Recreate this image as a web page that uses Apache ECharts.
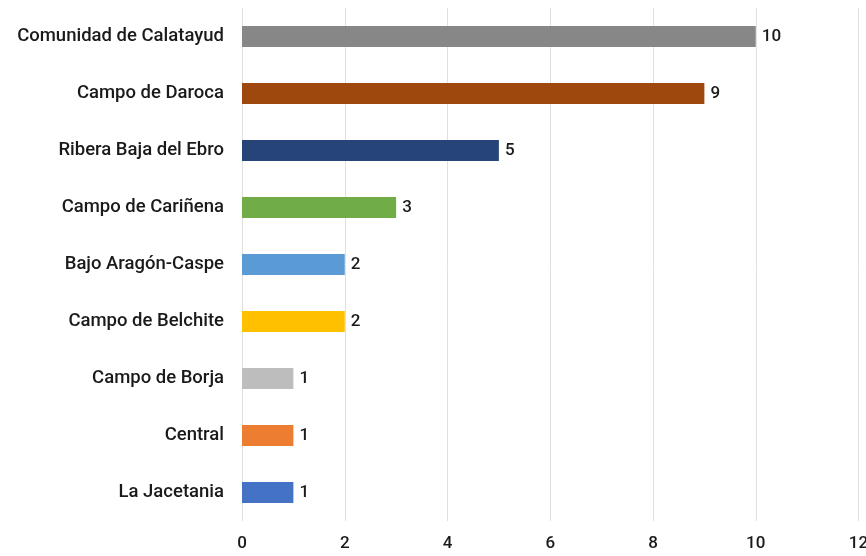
<!DOCTYPE html>
<html>
<head>
<meta charset="utf-8">
<script src="https://cdn.jsdelivr.net/npm/echarts@6/dist/echarts.min.js"></script>
<style>
  html, body { margin: 0; padding: 0; background: #fff; }
  #chart { width: 866px; height: 556px; }
</style>
</head>
<body>
<div id="chart"></div>
<script>
// categories bottom -> top
const comarcas = ['La Jacetania', 'Central', 'Campo de Borja', 'Campo de Belchite', 'Bajo Aragón-Caspe',
  'Campo de Cariñena', 'Ribera Baja del Ebro', 'Campo de Daroca', 'Comunidad de Calatayud'];
const valores = [1, 1, 1, 2, 2, 3, 5, 9, 10];
const colores = ['#4472C4', '#ED7D31', '#BDBDBD', '#FFC000', '#5B9BD5', '#70AD47', '#264478', '#9E480E', '#878787'];

const font = 'Roboto, "DejaVu Sans", sans-serif';

const chart = echarts.init(document.getElementById('chart'));
const option = {
  animation: false,
  grid: { left: 242, right: 7.5, top: 8, bottom: 35, outerBoundsMode: 'none' },
  xAxis: {
    type: 'value',
    min: 0,
    max: 12,
    interval: 2,
    axisLine: { show: false },
    axisTick: { show: false },
    splitLine: { lineStyle: { color: '#e0e0e0', width: 1 } },
    axisLabel: { color: '#1a1a1a', fontSize: 17, fontWeight: 500, fontFamily: font, margin: 14 }
  },
  yAxis: {
    type: 'category',
    data: comarcas,
    axisLine: { show: false },
    axisTick: { show: false },
    axisLabel: { color: '#1a1a1a', fontSize: 18.5, fontWeight: 500, fontFamily: font, margin: 18 }
  },
  series: [{
    type: 'bar',
    barWidth: 21,
    data: valores.map((v, i) => ({ value: v, itemStyle: { color: colores[i] } })),
    label: {
      show: true,
      position: 'right',
      distance: 6,
      color: '#1a1a1a',
      fontSize: 17,
      fontWeight: 500,
      fontFamily: font
    }
  }]
};
chart.setOption(option);
</script>
</body>
</html>
